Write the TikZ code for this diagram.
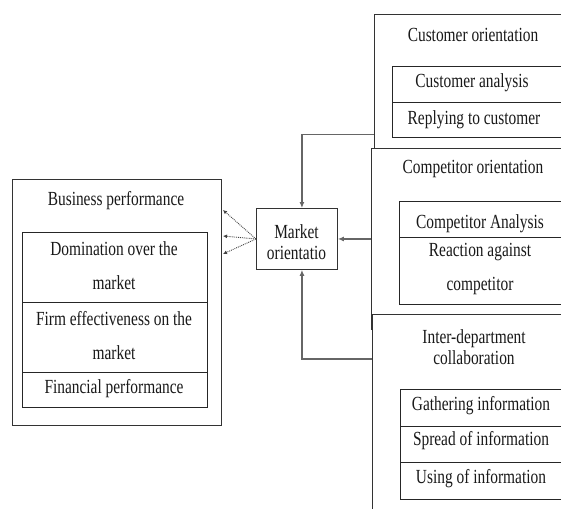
\documentclass[tikz,border=0pt]{standalone}
\usepackage{fontspec}
\setmainfont{Liberation Serif}[FakeStretch=0.77]
\usetikzlibrary{arrows.meta}
\begin{document}
\begin{tikzpicture}[x=1pt,y=-1pt,
  box/.style={draw=black!80,line width=0.9pt,fill=white,inner sep=0pt,anchor=north west},
  cellbox/.style={draw=black!85,line width=0.8pt,inner sep=0pt,anchor=north west},
  txt/.style={inner sep=0pt,yshift=-2pt,font=\fontsize{20}{34}\selectfont,align=center,text=black!90},
  tighttxt/.style={inner sep=0pt,yshift=-2pt,font=\fontsize{20}{21}\selectfont,align=center,text=black!90},
  conn/.style={draw=black!60,line width=1.1pt,-{Latex[length=6pt,width=5pt]}},
  dots/.style={draw=black!75,line width=0.9pt,densely dotted,-{Latex[length=4pt,width=4pt]}}]
\useasboundingbox (0,0) rectangle (561,508);
\clip (0,0) rectangle (561,508);

% Business performance
\node[box,minimum width=209pt,minimum height=246pt] (bp) at (12,179) {};
\node[cellbox,minimum width=185pt,minimum height=70pt] (bp1) at (22,232) {};
\node[cellbox,minimum width=185pt,minimum height=70pt] (bp2) at (22,302) {};
\node[cellbox,minimum width=185pt,minimum height=35pt] (bp3) at (22,372) {};
\node[txt] (bpt) at (116,199) {Business performance};
\node[txt] (bpt1) at (114,263.5) {Domination over the\\market};
\node[txt] (bpt2) at (114,333.5) {Firm effectiveness on the\\market};
\node[txt] (bpt3) at (114,387) {Financial performance};

% Market orientation
\node[box,minimum width=81pt,minimum height=61pt] (mo) at (256,208) {};
\node[tighttxt] (mot) at (296.5,240.5) {Market\\orientatio};

% Customer orientation
\node[box,minimum width=220pt,minimum height=134pt] (cust) at (374,14) {};
\node[cellbox,minimum width=200pt,minimum height=36pt] (cu1) at (392,66) {};
\node[cellbox,minimum width=200pt,minimum height=35pt] (cu2) at (392,102) {};
\node[txt] (cut) at (473,33) {Customer orientation};
\node[txt] (cut1) at (472,81) {Customer analysis};
\node[txt] (cut2) at (474,118) {Replying to customer};

% Competitor orientation
\node[box,minimum width=220pt,minimum height=181pt] (comp) at (371,148) {};
\node[cellbox,minimum width=200pt,minimum height=36pt] (co1) at (399,201) {};
\node[cellbox,minimum width=200pt,minimum height=67pt] (co2) at (399,237) {};
\node[txt] (cot) at (473,167) {Competitor orientation};
\node[txt] (cot1) at (480,222) {Competitor Analysis};
\node[txt] (cot2) at (480,267) {Reaction against\\competitor};

% Inter-department collaboration
\node[box,minimum width=220pt,minimum height=220pt] (inter) at (372,314) {};
\node[cellbox,minimum width=200pt,minimum height=37pt] (in1) at (400,389) {};
\node[cellbox,minimum width=200pt,minimum height=36pt] (in2) at (400,426) {};
\node[cellbox,minimum width=200pt,minimum height=37pt] (in3) at (400,462) {};
\node[tighttxt] (intt) at (474,345.5) {Inter-department\\collaboration};
\node[txt] (int1) at (481,404) {Gathering information};
\node[txt] (int2) at (481,439) {Spread of information};
\node[txt] (int3) at (481,477) {Using of information};

% Connectors
\draw[conn] ([yshift=14pt]cust.south west) -| ([xshift=5pt]mo.north);
\draw[conn] (comp.west |- mo.east) -- (mo.east);
\draw[conn] ([yshift=-45pt]inter.north west) -| ([xshift=5pt]mo.south);

\coordinate (d1) at (223,210);
\coordinate (d2) at (223,236);
\coordinate (d3) at (223,254);
\draw[dots] (mo.west) -- (d1);
\draw[dots] (mo.west) -- (d2);
\draw[dots] (mo.west) -- (d3);
\end{tikzpicture}
\end{document}
